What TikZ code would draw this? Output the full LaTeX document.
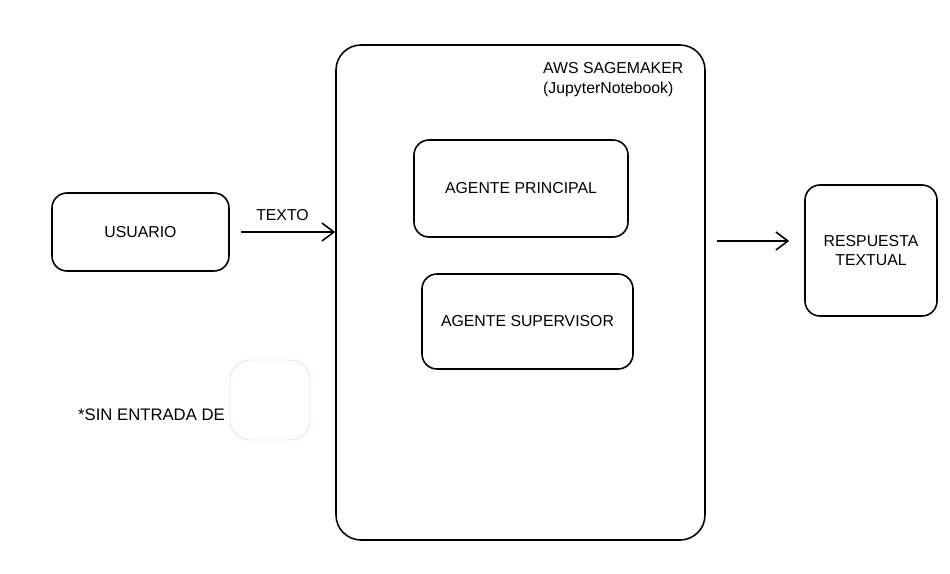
\documentclass[tikz,border=0pt]{standalone}
\usepackage{fontspec}
\setmainfont{Liberation Sans}
\usetikzlibrary{arrows.meta}
\definecolor{faintviolet}{RGB}{228,224,255}

\begin{document}
\begin{tikzpicture}[
        box/.style = {draw, rectangle, rounded corners = 0.3cm, line width = 0.9pt,
            inner sep = 0pt, align = center, font = \fontsize{9}{13}\selectfont},
        arrow/.style = {line width = 0.9pt, -{Straight Barb[length = 2.4mm, width = 3.6mm]}}
    ]
            \useasboundingbox (0, 0) rectangle (19, -11.46);

            \draw
                (2.81, -4.64) node (usuario) [box, minimum width = 3.54cm, minimum height = 1.56cm] {USUARIO}

                (10.41, -5.85) node (sage) [box, rounded corners = 0.5cm, minimum width = 7.38cm, minimum height = 9.9cm] {}
                (10.74, -1.12) node (aws) [anchor = north west, align = left, font = \fontsize{9}{11.3}\selectfont] {AWS SAGEMAKER\\(JupyterNotebook)}

                (10.42, -3.77) node (principal) [box, minimum width = 4.28cm, minimum height = 1.94cm] {AGENTE PRINCIPAL}
                (10.55, -6.43) node (supervisor) [box, minimum width = 4.22cm, minimum height = 1.9cm] {AGENTE SUPERVISOR}

                (17.42, -5.01) node (resp) [box, minimum width = 2.64cm, minimum height = 2.62cm, font = \fontsize{9}{10.8}\selectfont] {RESPUESTA\\TEXTUAL}

                (3.03, -8.3) node (sin) [font = \fontsize{9.5}{11}\selectfont] {*SIN ENTRADA DE}
                (5.4, -8) node (blank) [box, draw = faintviolet, line width = 0.5pt, rounded corners = 0.4cm, minimum width = 1.6cm, minimum height = 1.6cm] {}
            ;

            \draw[arrow, shorten <= 0.22cm]
                (usuario.east) -- node (texto) [above = 1mm, font = \fontsize{9}{11}\selectfont] {TEXTO} (usuario.east -| sage.west)
            ;

            \draw[arrow, shorten <= 0.22cm, shorten >= 0.3cm]
                (sage.east |- 0, -4.82) -- (resp.west |- 0, -4.82)
            ;

        \end{tikzpicture}
\end{document}
